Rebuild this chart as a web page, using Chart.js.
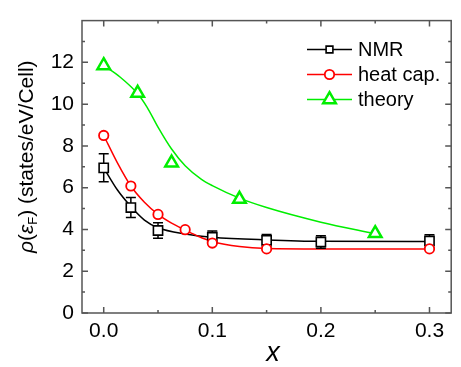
<!DOCTYPE html>
<html>
<head>
<meta charset="utf-8">
<script src="https://cdn.jsdelivr.net/npm/chart.js@4.4.1/dist/chart.umd.min.js"></script>
<style>
  html, body { margin: 0; padding: 0; background: #fff; }
  canvas { display: block; }
</style>
</head>
<body>
<canvas id="chart" width="461" height="367"></canvas>
<script>
// measured points
const nmrX = [0, 0.025, 0.05, 0.1, 0.15, 0.2, 0.3];
const nmrY = [6.95, 5.05, 3.95, 3.63, 3.48, 3.4, 3.45];
const nmrErr = [0.67, 0.48, 0.37, 0.3, 0.28, 0.3, 0.3];
const heatX = [0, 0.025, 0.05, 0.075, 0.1, 0.15, 0.3];
const heatY = [8.5, 6.08, 4.72, 3.99, 3.35, 3.07, 3.07];
const theoryX = [0, 0.03125, 0.0625, 0.125, 0.25];
const theoryY = [11.85, 10.53, 7.19, 5.45, 3.81];

// guide curves
const nmrFitX = [0, 0.0125, 0.025, 0.0375, 0.05, 0.075, 0.1, 0.15, 0.2, 0.3];
const nmrFitY = [6.95, 5.9, 5.1, 4.45, 4.08, 3.78, 3.63, 3.5, 3.43, 3.42];
const heatFitX = [0, 0.0125, 0.025, 0.0375, 0.05, 0.0625, 0.075, 0.0875, 0.1, 0.125, 0.15, 0.2, 0.3];
const heatFitY = [8.5, 7.2, 6.08, 5.3, 4.72, 4.3, 3.97, 3.66, 3.42, 3.18, 3.09, 3.07, 3.07];
const theoryFitX = [0, 0.015, 0.03125, 0.04, 0.05, 0.0625, 0.075, 0.09, 0.1, 0.125, 0.15, 0.2, 0.25];
const theoryFitY = [11.85, 11.3, 10.5, 9.85, 8.9, 7.85, 7.05, 6.4, 6.1, 5.5, 5.05, 4.35, 3.8];

// axes
const xTicks = [0, 0.1, 0.2, 0.3];
const xMinor = [0.05, 0.15, 0.25];
const yTicks = [0, 2, 4, 6, 8, 10, 12];
const yMinor = [1, 3, 5, 7, 9, 11, 13];
const legendLabels = ['NMR', 'heat cap.', 'theory'];

const GREEN = '#00ee00';
const FONT = '"Liberation Sans", Arial, Helvetica, sans-serif';

const pts = (xs, ys) => xs.map((v, i) => ({ x: v, y: ys[i] }));

const markerSets = [
  { label: legendLabels[0], color: '#000', style: 'rect', radius: 6.5, legendRadius: 4.8, bw: 1.6 },
  { label: legendLabels[1], color: '#ff0000', style: 'circle', radius: 4.7, legendRadius: 4.7, bw: 1.8 },
  { label: legendLabels[2], color: GREEN, style: 'triangle', radius: 7.3, legendRadius: 7.3, bw: 2.5 }
];

function markerDataset(xs, ys, m) {
  return {
    label: m.label,
    data: pts(xs, ys),
    showLine: false,
    pointStyle: m.style,
    pointRadius: m.radius,
    pointBorderWidth: m.bw,
    pointBorderColor: m.color,
    pointBackgroundColor: '#fff'
  };
}

function fitDataset(xs, ys, color) {
  return {
    data: pts(xs, ys),
    showLine: true,
    borderColor: color,
    borderWidth: 1.5,
    pointRadius: 0,
    cubicInterpolationMode: 'monotone'
  };
}

const decor = {
  id: 'decor',
  beforeDatasetDraw(chart, args) {
    if (args.index !== 1) return;
    const { ctx, scales: { x, y } } = chart;
    ctx.save();
    ctx.strokeStyle = '#000';
    ctx.lineWidth = 1.5;
    nmrX.forEach((v, i) => {
      const px = x.getPixelForValue(v);
      const top = y.getPixelForValue(nmrY[i] + nmrErr[i]);
      const bot = y.getPixelForValue(nmrY[i] - nmrErr[i]);
      ctx.beginPath();
      ctx.moveTo(px, top); ctx.lineTo(px, bot);
      ctx.moveTo(px - 5, top); ctx.lineTo(px + 5, top);
      ctx.moveTo(px - 5, bot); ctx.lineTo(px + 5, bot);
      ctx.stroke();
    });
    ctx.restore();
  },
  afterDraw(chart) {
    const { ctx, chartArea: a, scales: { x, y } } = chart;
    ctx.save();
    ctx.strokeStyle = '#555';
    ctx.lineWidth = 1.5;
    ctx.strokeRect(a.left, a.top, a.right - a.left, a.bottom - a.top);

    // inward ticks on all four sides
    ctx.beginPath();
    const xt = (vals, len) => vals.forEach(v => {
      const px = x.getPixelForValue(v);
      ctx.moveTo(px, a.bottom); ctx.lineTo(px, a.bottom - len);
      ctx.moveTo(px, a.top); ctx.lineTo(px, a.top + len);
    });
    const yt = (vals, len) => vals.forEach(v => {
      const py = y.getPixelForValue(v);
      ctx.moveTo(a.left, py); ctx.lineTo(a.left + len, py);
      ctx.moveTo(a.right, py); ctx.lineTo(a.right - len, py);
    });
    xt(xTicks, 6); xt(xMinor, 3);
    yt(yTicks, 6); yt(yMinor, 3);
    ctx.stroke();

    // x title
    ctx.fillStyle = '#000';
    ctx.font = 'italic 27px ' + FONT;
    ctx.textAlign = 'center';
    ctx.textBaseline = 'alphabetic';
    ctx.fillText('x', 273, 361);

    // y title, rotated, with italic symbols and subscript
    ctx.translate(33, 253);
    ctx.rotate(-Math.PI / 2);
    ctx.textAlign = 'left';
    let cx = 0;
    const part = (t, font, dy) => {
      ctx.font = font;
      ctx.fillText(t, cx, dy || 0);
      cx += ctx.measureText(t).width;
    };
    part('\u03c1', 'italic 21px ' + FONT);
    part('(', '21px ' + FONT);
    part('\u03b5', 'italic 21px ' + FONT);
    part('F', '13px ' + FONT, 4);
    part(')', '21px ' + FONT);
    part(' (states/eV/Cell)', '21px ' + FONT);
    ctx.restore();

    // legend: line with marker in the middle
    ctx.save();
    const rows = [49.5, 74.5, 99.5];
    markerSets.forEach((m, i) => {
      const ry = rows[i];
      ctx.strokeStyle = m.color;
      ctx.lineWidth = 1.5;
      ctx.beginPath();
      ctx.moveTo(307, ry); ctx.lineTo(352, ry);
      ctx.stroke();
      ctx.fillStyle = '#fff';
      ctx.lineWidth = m.bw;
      Chart.helpers.drawPoint(ctx, { pointStyle: m.style, radius: m.legendRadius, rotation: 0, borderWidth: m.bw }, 329.5, ry);
      ctx.fillStyle = '#000';
      ctx.font = '20px ' + FONT;
      ctx.textAlign = 'left';
      ctx.textBaseline = 'middle';
      ctx.fillText(m.label, 358, ry + 1);
    });
    ctx.restore();
  }
};

new Chart(document.getElementById('chart'), {
  type: 'scatter',
  data: {
    datasets: [
      markerDataset(heatX, heatY, markerSets[1]),
      markerDataset(nmrX, nmrY, markerSets[0]),
      markerDataset(theoryX, theoryY, markerSets[2]),
      fitDataset(heatFitX, heatFitY, '#ff0000'),
      fitDataset(nmrFitX, nmrFitY, '#000'),
      fitDataset(theoryFitX, theoryFitY, GREEN)
    ]
  },
  options: {
    responsive: false,
    animation: false,
    events: [],
    layout: { padding: { top: 5, right: 2, left: 0, bottom: 0 } },
    plugins: { legend: { display: false }, tooltip: { enabled: false } },
    scales: {
      x: {
        type: 'linear',
        min: -0.02,
        max: 0.32,
        grid: { display: false, drawTicks: false },
        border: { display: false },
        afterBuildTicks: s => { s.ticks = xTicks.map(v => ({ value: v })); },
        afterFit: s => { s.height = 54; },
        ticks: {
          color: '#000',
          font: { family: FONT, size: 21 },
          padding: 6,
          maxRotation: 0,
          callback: v => v.toFixed(1)
        }
      },
      y: {
        type: 'linear',
        min: 0,
        max: 14,
        grid: { display: false, drawTicks: false },
        border: { display: false },
        afterBuildTicks: s => { s.ticks = yTicks.map(v => ({ value: v })); },
        afterFit: s => { s.width = 82; },
        ticks: {
          color: '#000',
          font: { family: FONT, size: 21 },
          padding: 8,
          callback: v => String(v)
        }
      }
    }
  },
  plugins: [decor]
});
</script>
</body>
</html>
